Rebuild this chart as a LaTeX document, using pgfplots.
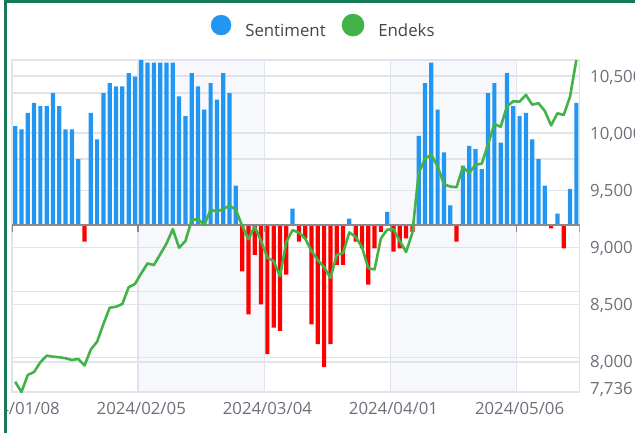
\documentclass[border=0pt]{standalone}
\usepackage{pgfplots}
\pgfplotsset{compat=1.18}
\usepackage{fontspec}
\setmainfont{Open Sans}
\definecolor{sentblue}{RGB}{33,150,243}
\definecolor{sentred}{RGB}{255,0,0}
\definecolor{endgreen}{RGB}{67,178,73}
\definecolor{gridc}{RGB}{224,228,236}
\definecolor{bandtint}{RGB}{210,219,238}
\definecolor{axc}{RGB}{110,112,121}
\definecolor{zeroc}{RGB}{135,137,145}
\definecolor{legc}{RGB}{68,68,68}
\definecolor{framec}{RGB}{22,122,88}
\newcommand{\lbl}{\fontsize{16.8}{20}\selectfont}
\pgfplotsset{
  base/.style={
    at={(12pt,40pt)}, anchor=south west,
    scale only axis, width=567.5pt, height=332pt,
    xmin=-0.5, xmax=89.5,
    scaled ticks=false,
    major tick length=0pt, minor tick length=0pt,
    grid style={gridc, line width=1.4pt},
  }
}
\begin{document}
\begin{tikzpicture}
\useasboundingbox (0,0) rectangle (635pt,432pt);
\begin{scope}
\clip (6.6pt,0pt) rectangle (635pt,432pt);
% grid of the index axis, vertical grid and alternating bands
\begin{axis}[base,
  ymin=7736, ymax=10640,
  axis line style={gridc, line width=1.4pt},
  xtick={19.5,39.5,59.5,79.5}, xticklabels={,,,}, xmajorgrids,
  ytick={8000,8500,9000,9500,10000,10500}, yticklabels={,,,,,}, ymajorgrids,
]
\fill[bandtint, opacity=0.2] (axis cs:19.5,7736) rectangle (axis cs:39.5,10640);
\fill[bandtint, opacity=0.2] (axis cs:59.5,7736) rectangle (axis cs:79.5,10640);
\end{axis}
% sentiment bars
\begin{axis}[base,
  ymin=-50.5, ymax=50,
  axis line style={draw=none},
  ytick={-40,-20,20,40}, yticklabels={,,,}, ymajorgrids,
  xtick={0,20,40,60,80},
  xticklabels={2024/01/08,2024/02/05,2024/03/04,2024/04/01,2024/05/06},
  xticklabel style={anchor=base, inner sep=0pt, yshift=-22pt, font=\lbl, text=axc},
  ybar, bar width=4.2pt,
]
\addplot[fill=sentblue, draw=none, bar shift=0pt] coordinates {
(0,30) (1,29) (2,34) (3,37) (4,36) (5,36) (6,40) (7,36) (8,29) (9,29) (10,20)
(12,34) (13,26) (14,40) (15,43) (16,42) (17,42) (18,46) (19,45) (20,50)
(21,49.2) (22,49.2) (23,49.2) (24,49.2) (25,49.2) (26,39) (27,33) (28,46) (29,42)
(30,35) (31,43) (32,38) (33,46) (34,40) (35,12) (44,5) (53,2) (59,4)
(64,27) (65,43) (66,49.2) (67,35) (68,22) (69,6) (71,18) (72,24) (73,23) (74,17)
(75,40) (76,43) (77,25) (78,46) (79,36) (80,33) (81,34) (82,26) (83,20) (84,12)
(86,3.5) (88,11) (89,37)
};
\addplot[fill=sentred, draw=none, bar shift=0pt] coordinates {
(11,-5) (36,-14) (37,-27) (38,-9) (39,-24) (40,-39) (41,-31) (42,-32) (43,-15)
(45,-5) (46,-4) (47,-30) (48,-36) (49,-43) (50,-36) (51,-12) (52,-12)
(54,-5) (55,-7) (56,-18) (57,-7) (58,-2) (60,-8) (61,-7) (62,-4) (63,-2)
(70,-5) (85,-1) (87,-7)
};
\draw[zeroc, line width=1.4pt] (axis cs:-0.5,0) -- (axis cs:89.5,0);
\draw[zeroc, line width=1.4pt] (axis cs:-0.5,0) -- ++(0pt,-7pt);
\draw[zeroc, line width=1.4pt] (axis cs:19.5,0) -- ++(0pt,-7pt);
\draw[zeroc, line width=1.4pt] (axis cs:39.5,0) -- ++(0pt,-7pt);
\draw[zeroc, line width=1.4pt] (axis cs:59.5,0) -- ++(0pt,-7pt);
\draw[zeroc, line width=1.4pt] (axis cs:79.5,0) -- ++(0pt,-7pt);
\draw[zeroc, line width=1.4pt] (axis cs:89.5,0) -- ++(0pt,-7pt);
\end{axis}
% index line
\begin{axis}[base,
  ymin=7736, ymax=10640,
  axis line style={draw=none},
  xtick=\empty,
  ytick={7736,8000,8500,9000,9500,10000,10500},
  yticklabels={{\raisebox{4pt}{7,736}},{8,000},{8,500},{9,000},{9,500},{10,000},{10,500}},
  yticklabel pos=right,
  yticklabel style={anchor=base west, inner sep=0pt, xshift=10.5pt, yshift=-6pt, font=\lbl, text=axc},
  legend style={at={(axis description cs:0.3501,1.1024)}, anchor=west,
    draw=none, fill=none, inner sep=0pt, legend columns=-1,
    nodes={inner sep=0pt}, font=\lbl, text=legc,
    /tikz/every odd column/.append style={column sep=14pt},
    /tikz/every even column/.append style={column sep=16pt}},
]
\addlegendimage{legend image code/.code={\fill[sentblue] (10pt,6pt) circle (10pt);}}
\addlegendentry{Sentiment}
\addplot[endgreen, line width=2.6pt, line join=round,
  legend image code/.code={\fill[endgreen] (10pt,6pt) circle (10pt);}] table {
x y
0 7826
1 7736
2 7885
3 7911
4 7996
5 8054
6 8045
7 8040
8 8031
9 8016
10 8025
11 7968
12 8108
13 8176
14 8331
15 8473
16 8482
17 8506
18 8652
19 8681
20 8774
21 8861
22 8846
23 8940
24 9034
25 9160
26 8998
27 9057
28 9240
29 9249
30 9197
31 9330
32 9315
33 9337
34 9366
35 9330
36 9189
37 9072
38 9183
39 9057
40 8910
41 8881
42 8749
43 9049
44 9152
45 9130
46 9078
47 8969
48 8890
49 8828
50 8734
51 8934
52 8952
53 9132
54 9093
55 9004
56 8819
57 8808
58 9079
59 9156
60 9160
61 9057
62 8960
63 9130
64 9652
65 9777
66 9812
67 9709
68 9553
69 9533
70 9527
71 9703
72 9652
73 9724
74 9733
75 9903
76 10079
77 10056
78 10235
79 10279
80 10276
81 10335
82 10249
83 10262
84 10194
85 10068
86 10174
87 10159
88 10320
89 10640
};
\addlegendentry{Endeks}
\end{axis}
\end{scope}
\draw[framec, line width=2.7pt] (5.3pt,-20pt) -- (5.3pt,430.7pt) -- (700pt,430.7pt);
\end{tikzpicture}
\end{document}
